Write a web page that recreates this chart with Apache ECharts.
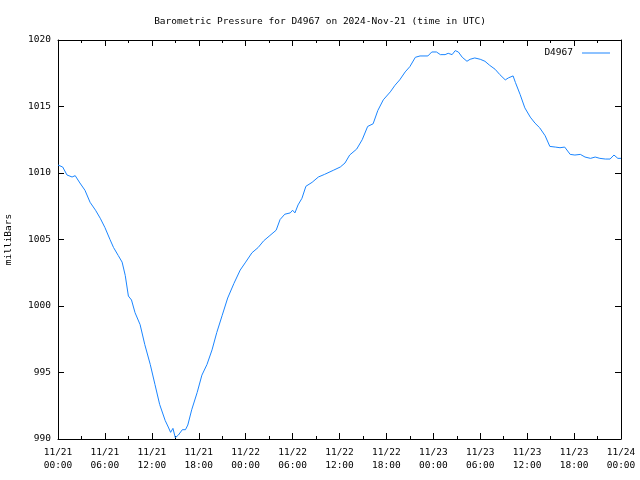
<!DOCTYPE html>
<html>
<head>
<meta charset="utf-8">
<script src="https://cdn.jsdelivr.net/npm/echarts@6/dist/echarts.min.js"></script>
<style>html,body{margin:0;padding:0;background:#fff}#c{width:640px;height:480px}</style>
</head>
<body>
<div id="c"></div>
<script>
// hours since 2024-11-21 00:00 UTC
var hours = [0,0.6,1.15,1.8,2.2,2.8,3.45,4.1,4.8,5.4,6.0,6.65,7.1,7.7,8.2,8.6,9.0,9.4,9.85,10.5,11.1,11.8,12.4,13.0,13.7,14.1,14.4,14.7,15.0,15.4,15.9,16.3,16.6,17.1,17.8,18.4,19.05,19.7,20.3,21.0,21.7,22.5,23.3,24.0,24.8,25.6,26.3,27.1,27.9,28.4,29.0,29.7,30.0,30.3,30.7,31.2,31.7,32.5,33.3,34.1,35.2,36.1,36.7,37.3,38.2,38.9,39.6,40.3,40.9,41.6,42.5,43.1,43.7,44.4,45.0,45.7,46.3,47.3,47.8,48.4,48.9,49.5,49.9,50.4,50.8,51.2,51.7,52.3,52.7,53.3,54.0,54.6,55.2,55.9,56.5,57.2,57.6,58.2,58.5,59.1,59.7,60.4,61.0,61.6,62.3,62.9,63.6,64.2,64.8,65.5,66.1,66.8,67.4,68.1,68.7,69.3,70.0,70.6,71.1,71.6,72.0];
var pressure = [1010.6,1010.45,1009.85,1009.7,1009.8,1009.25,1008.7,1007.8,1007.2,1006.6,1005.9,1005.0,1004.4,1003.8,1003.3,1002.3,1000.75,1000.45,999.5,998.6,997.1,995.6,994.1,992.6,991.4,990.9,990.5,990.8,990.1,990.3,990.7,990.7,991.05,992.2,993.5,994.8,995.6,996.7,998.0,999.3,1000.6,1001.7,1002.7,1003.3,1004.0,1004.4,1004.9,1005.3,1005.7,1006.5,1006.9,1007.0,1007.2,1007.0,1007.6,1008.1,1009.0,1009.3,1009.7,1009.9,1010.2,1010.45,1010.75,1011.35,1011.8,1012.5,1013.5,1013.7,1014.7,1015.5,1016.1,1016.6,1017.0,1017.6,1018.0,1018.7,1018.8,1018.8,1019.1,1019.1,1018.9,1018.9,1019.0,1018.9,1019.2,1019.1,1018.7,1018.4,1018.55,1018.65,1018.55,1018.4,1018.1,1017.8,1017.4,1017.0,1017.15,1017.3,1016.8,1015.9,1014.9,1014.2,1013.75,1013.4,1012.8,1012.0,1011.95,1011.9,1011.95,1011.4,1011.35,1011.4,1011.2,1011.1,1011.2,1011.1,1011.05,1011.05,1011.35,1011.1,1011.1];
var xTickLabels = ["11/21\n00:00","11/21\n06:00","11/21\n12:00","11/21\n18:00","11/22\n00:00","11/22\n06:00","11/22\n12:00","11/22\n18:00","11/23\n00:00","11/23\n06:00","11/23\n12:00","11/23\n18:00","11/24\n00:00"];
var seriesName = "D4967";
var titleText = "Barometric Pressure for D4967 on 2024-Nov-21 (time in UTC)";
var yName = "milliBars";

var font = "DejaVu Sans Mono";
var fs = 9.5;
var lineColor = "#1a85ff";
var data = hours.map(function(h,i){return [h, pressure[i]];});

var axisCommon = {
  axisLine:{show:true,onZero:false,lineStyle:{color:'#000',width:1}},
  splitLine:{show:false}
};
var chart = echarts.init(document.getElementById('c'), null, {renderer:'canvas'});
chart.setOption({
  animation:false,
  backgroundColor:'#fff',
  title:{text:titleText,left:'center',top:12,textStyle:{fontFamily:font,fontSize:fs,fontWeight:'normal',color:'#000'}},
  legend:{show:true,right:25,top:43,align:'right',icon:'rect',itemWidth:28,itemHeight:1,itemGap:0,
    textStyle:{fontFamily:font,fontSize:fs,color:'#000',padding:[0,4,0,0]},data:[seriesName]},
  grid:{left:58,right:19,top:40,bottom:41,containLabel:false,outerBoundsMode:'none'},
  xAxis:[
    Object.assign({type:'value',min:0,max:72,interval:6,position:'bottom',
      axisTick:{show:true,inside:true,length:6,lineStyle:{color:'#000'}},
      minorTick:{show:true,splitNumber:2,length:3,lineStyle:{color:'#000'}},
      axisLabel:{fontFamily:font,fontSize:fs,color:'#000',margin:7,lineHeight:13,
        formatter:function(v){return xTickLabels[Math.round(v/6)];}}},axisCommon),
    Object.assign({type:'value',min:0,max:72,interval:6,position:'top',
      axisTick:{show:true,inside:true,length:6,lineStyle:{color:'#000'}},
      minorTick:{show:true,splitNumber:2,length:3,lineStyle:{color:'#000'}},
      axisLabel:{show:false}},axisCommon)
  ],
  yAxis:[
    Object.assign({type:'value',min:990,max:1020,interval:5,position:'left',
      name:yName,nameLocation:'middle',nameGap:44,nameRotate:90,
      nameTextStyle:{fontFamily:font,fontSize:fs,color:'#000'},
      axisTick:{show:true,inside:true,length:6,lineStyle:{color:'#000'}},
      axisLabel:{fontFamily:font,fontSize:fs,color:'#000',margin:7,
        formatter:function(v){return String(v);}}},axisCommon),
    Object.assign({type:'value',min:990,max:1020,interval:5,position:'right',
      axisTick:{show:true,inside:true,length:6,lineStyle:{color:'#000'}},
      axisLabel:{show:false}},axisCommon)
  ],
  series:[{name:seriesName,type:'line',data:data,showSymbol:false,symbol:'none',
    lineStyle:{color:lineColor,width:1},itemStyle:{color:lineColor},xAxisIndex:0,yAxisIndex:0}]
});
</script>
</body>
</html>
